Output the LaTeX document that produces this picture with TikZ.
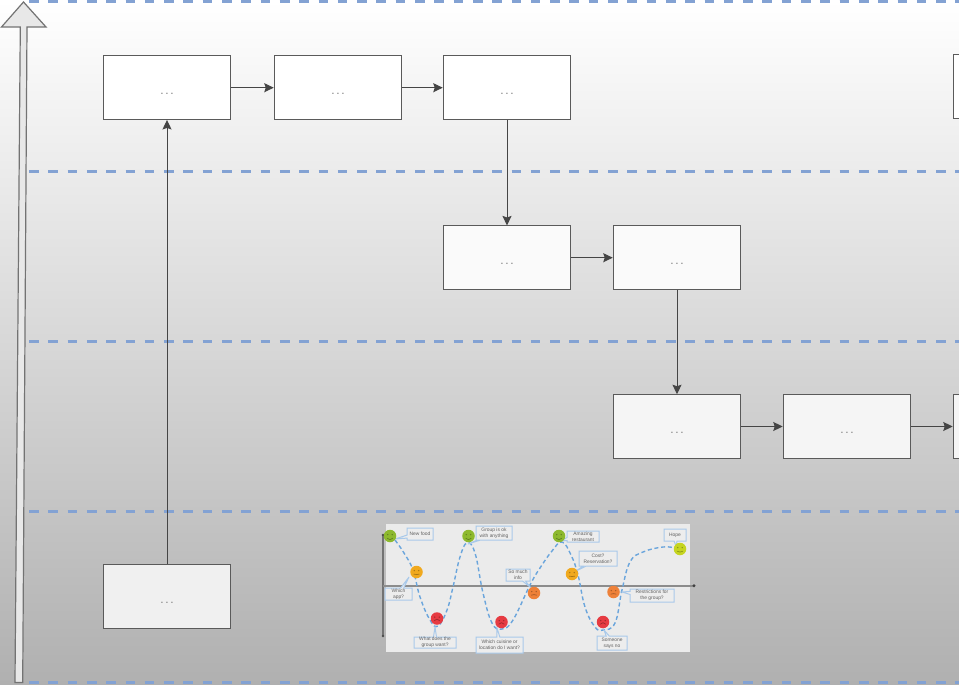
\documentclass[tikz,border=0pt]{standalone}
\usepackage{fontspec}
\setmainfont{Liberation Sans}
\usetikzlibrary{arrows.meta,shapes.callouts}
\definecolor{bandblue}{HTML}{83A2D3}
\definecolor{boxline}{HTML}{5A5A5A}
\definecolor{linkdark}{HTML}{454545}
\definecolor{curveblue}{HTML}{6AA5DC}
\definecolor{callline}{HTML}{A9C9EA}
\definecolor{fgreen}{HTML}{8DB92E}
\definecolor{fyellow}{HTML}{F0A91E}
\definecolor{fred}{HTML}{E63B42}
\definecolor{forange}{HTML}{EE8139}
\definecolor{flime}{HTML}{C5D420}
\tikzset{
  band/.style={bandblue,line width=3pt,dash pattern=on 9.6pt off 9.7pt},
  stagebox/.style={draw=boxline,line width=1pt,minimum width=127.5pt,minimum height=63.5pt,inner sep=0pt,
    font=\fontsize{12}{12}\selectfont,text=gray},
  link/.style={draw=linkdark,line width=1pt,-{Stealth[length=9.5pt,width=9pt,inset=1.5pt]}},
  callbox/.style={rectangle callout,draw=callline,fill=black!7,line width=1pt,inner sep=0pt,align=center,
    text=black!62,font=\fontsize{4.9}{6}\selectfont,callout pointer width=3pt},
  facedot/.style={circle,inner sep=0pt,minimum size=12.5pt}
}
\newcommand{\dotslabel}{\rule{0pt}{13.8pt}.\kern1.6pt.\kern1.6pt.}
% name, x, y, colour, mouth bend
\newcommand{\smiley}[5]{%
  \node[facedot,fill=#4] (#1) at (#2,#3) {};
  \fill[#4!70!black] (#2-2.2,#3-1.4) circle (.75) (#2+2.2,#3-1.4) circle (.75);
  \draw[#4!70!black,line width=.7pt] (#2-2.8,#3+2.2) .. controls (#2-1,#3+2.2+#5) and (#2+1,#3+2.2+#5) .. (#2+2.8,#3+2.2);
}
\begin{document}
\begin{tikzpicture}[x=1pt,y=-1pt]
\useasboundingbox (0,0) rectangle (959,685);
\clip (0,0) rectangle (959,685);
\shade[top color=white,bottom color=black!31] (0,0) rectangle (959,685);
% bands
\coordinate (ba1) at (29,1.5); \coordinate (ba2) at (959,1.5);
\coordinate (bb1) at (29,171.7); \coordinate (bb2) at (959,171.7);
\coordinate (bc1) at (29,341.7); \coordinate (bc2) at (959,341.7);
\coordinate (bd1) at (29,511.7); \coordinate (bd2) at (959,511.7);
\coordinate (be1) at (29,682); \coordinate (be2) at (959,682);
\draw[band] (ba1) -- (ba2);
\draw[band] (bb1) -- (bb2);
\draw[band] (bc1) -- (bc2);
\draw[band] (bd1) -- (bd2);
\draw[band] (be1) -- (be2);
% big axis arrow
\draw[fill=black!9,draw=black!55,line width=1.2pt,line join=miter]
  (15,682.5) -- (20.3,27) -- (1.5,27) -- (23.5,2) -- (46,27) -- (27,27) -- (22.7,682.5) -- cycle;
% boxes
\node[stagebox,fill=white] (s1) at (167,87.7) {\dotslabel};
\node[stagebox,fill=white] (s2) at (338,87.7) {\dotslabel};
\node[stagebox,fill=white] (s3) at (507,87.7) {\dotslabel};
\node[stagebox,fill=white] (s4) at (1017,86.7) {};
\node[stagebox,fill=black!2] (s5) at (507,257.7) {\dotslabel};
\node[stagebox,fill=black!2] (s6) at (677,257.7) {\dotslabel};
\node[stagebox,fill=black!4] (s7) at (677,426.5) {\dotslabel};
\node[stagebox,fill=black!4] (s8) at (847,426.5) {\dotslabel};
\node[stagebox,fill=black!4] (s9) at (1017,426.5) {};
\node[stagebox,fill=black!6] (s0) at (167,596.5) {\dotslabel};
% connectors
\draw[link] (s0.north) -- (s1.south);
\draw[link] (s1.east) -- (s2.west);
\draw[link] (s2.east) -- (s3.west);
\draw[link] (s3.south) -- (s5.north);
\draw[link] (s5.east) -- (s6.west);
\draw[link] (s6.south) -- (s7.north);
\draw[link] (s7.east) -- (s8.west);
\draw[link] (s8.east) -- (s9.west);
% inset chart
\fill[black!8] (386,524) rectangle (690,652);
\draw[black!55,line width=1.1pt] (383,535) -- (383,636);
\fill[black!70] (383,535) circle (1.3) (383,636) circle (1.3);
\draw[black!45,line width=1.6pt] (383,585.7) -- (694,585.7);
\fill[black!75] (694,585.7) circle (1.6);
\draw[curveblue,line width=1.4pt,dash pattern=on 4pt off 2.8pt] plot[smooth,tension=.7] coordinates {
  (395,540) (404,553) (413,570) (420,597) (430,620) (438,626) (447,610) (453,587) (460,557) (467,543) (475,553) (483,593) (492,623) (502,629)
  (513,620) (530,585) (540,568) (552,551) (562,542) (571,555) (578,575) (585,607) (595,627) (603,630) (615,623) (622,590) (630,562)
  (643,552) (663,547) (675,548)};
% callouts
\node[callbox,minimum width=26pt,minimum height=12pt,callout absolute pointer={(395,539)}] (c1) at (420,534) {New food};
\node[callbox,minimum width=27pt,minimum height=12pt,callout absolute pointer={(409,577)}] (c2) at (398.5,594) {Which\\app?};
\node[callbox,minimum width=42pt,minimum height=11pt,callout absolute pointer={(435,627)}] (c3) at (435,642.5) {What does the\\group want?};
\node[callbox,minimum width=36pt,minimum height=14pt,callout absolute pointer={(468,544)}] (c4) at (494,533) {Group is ok\\with anything};
\node[callbox,minimum width=47pt,minimum height=16pt,callout absolute pointer={(497,628)}] (c5) at (499.5,645) {Which cuisine or\\location do I want?};
\node[callbox,minimum width=24pt,minimum height=12pt,callout absolute pointer={(530,587)}] (c6) at (518,575) {So much\\info};
\node[callbox,minimum width=32pt,minimum height=11pt,callout absolute pointer={(561,541)}] (c7) at (583,536.5) {Amazing\\restaurant};
\node[callbox,minimum width=38pt,minimum height=15pt,callout absolute pointer={(576,571)}] (c8) at (598,558.5) {Cost?\\Reservation?};
\node[callbox,minimum width=44pt,minimum height=13pt,callout absolute pointer={(622,592)}] (c9) at (652,595.5) {Restrictions for\\the group?};
\node[callbox,minimum width=30pt,minimum height=14pt,callout absolute pointer={(604,630)}] (c10) at (612,643) {Someone\\says no};
\node[callbox,minimum width=22pt,minimum height=12pt,callout absolute pointer={(676,546)}] (c11) at (675,535) {Hope};
% faces
\smiley{f1}{390}{536}{fgreen}{2}
\smiley{f2}{416.5}{572}{fyellow}{0.4}
\smiley{f3}{437}{618.5}{fred}{-2}
\smiley{f4}{468.5}{536}{fgreen}{2}
\smiley{f5}{501.5}{622}{fred}{-2}
\smiley{f6}{534}{593}{forange}{-0.8}
\smiley{f7}{559}{536}{fgreen}{2}
\smiley{f8}{572}{574}{fyellow}{0.4}
\smiley{f9}{613.5}{592}{forange}{-0.8}
\smiley{f10}{603}{622}{fred}{-2}
\smiley{f11}{680}{549}{flime}{1.2}
\end{tikzpicture}
\end{document}
